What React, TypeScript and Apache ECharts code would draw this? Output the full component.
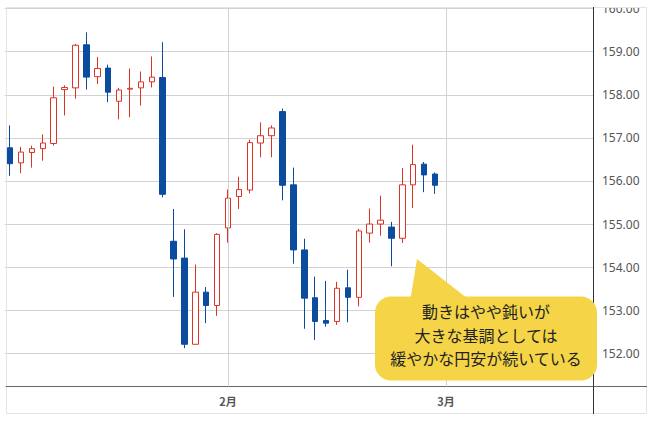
import React, { useEffect, useRef } from "react";
import * as echarts from "echarts";

const categories = [
  "2023-01-04", "2023-01-05", "2023-01-06", "2023-01-09", "2023-01-10", "2023-01-11", "2023-01-12", "2023-01-13",
  "2023-01-16", "2023-01-17", "2023-01-18", "2023-01-19", "2023-01-20", "2023-01-23", "2023-01-24", "2023-01-25",
  "2023-01-26", "2023-01-27", "2023-01-30", "2023-01-31",
  "2023-02-01", "2023-02-02", "2023-02-03", "2023-02-06", "2023-02-07", "2023-02-08", "2023-02-09", "2023-02-10",
  "2023-02-13", "2023-02-14", "2023-02-15", "2023-02-16", "2023-02-17", "2023-02-20", "2023-02-21", "2023-02-22",
  "2023-02-23", "2023-02-24", "2023-02-27", "2023-02-28",
  "2023-03-01", "2023-03-02", "2023-03-03", "2023-03-06", "2023-03-07", "2023-03-08", "2023-03-09", "2023-03-10",
  "2023-03-13", "2023-03-14", "2023-03-15", "2023-03-16", "2023-03-17", "2023-03-20",
];

const monthTicks = ["2023-02-01", "2023-03-01"];

const opens = [
  156.77, 156.42, 156.66, 156.75, 156.87, 158.12, 158.16, 159.16, 158.42, 158.62,
  157.85, 158.13, 158.16, 158.3, 158.4, 154.6, 154.21, 152.21, 153.42, 153.11,
  154.91, 155.64, 155.79, 156.88, 157.05, 157.61, 155.91, 154.4, 153.29, 152.76,
  152.74, 153.52, 153.3, 154.79, 155.0, 154.93, 154.67, 155.91, 156.39, 156.16,
];
const closes = [
  156.4, 156.67, 156.75, 156.88, 157.93, 158.17, 159.15, 158.41, 158.61, 158.06,
  158.11, 158.15, 158.3, 158.41, 155.69, 154.19, 152.21, 153.42, 153.11, 154.76,
  155.6, 155.8, 156.89, 157.05, 157.23, 155.9, 154.4, 153.28, 152.74, 152.7,
  153.51, 153.3, 154.84, 155.0, 155.09, 154.67, 155.91, 156.38, 156.14, 155.9,
];
const lows = [
  156.12, 156.18, 156.31, 156.47, 156.82, 157.52, 157.91, 158.12, 158.25, 157.83,
  157.43, 157.48, 157.75, 158.17, 155.62, 153.31, 152.12, 152.2, 152.7, 152.87,
  154.57, 155.35, 155.71, 156.55, 156.55, 155.55, 154.08, 152.57, 152.31, 152.62,
  152.66, 152.72, 153.09, 154.57, 154.73, 154.02, 154.56, 155.37, 155.74, 155.7,
];
const highs = [
  157.29, 156.79, 156.82, 157.08, 158.19, 158.22, 159.18, 159.45, 158.88, 158.7,
  158.16, 158.61, 158.54, 158.89, 159.22, 155.35, 154.88, 154.06, 153.54, 154.79,
  155.8, 156.1, 156.96, 157.36, 157.29, 157.68, 156.31, 154.66, 153.78, 153.68,
  153.66, 153.94, 154.89, 155.36, 155.66, 155.05, 156.3, 156.84, 156.44, 156.2,
];

const calloutLines = ["動きはやや鈍いが", "大きな基調としては", "緩やかな円安が続いている"];

const UP = "#dc3327";
const DOWN = "#0b4c9f";

export default function App() {
  const ref = useRef<HTMLDivElement>(null);

  useEffect(() => {
    if (!ref.current) return;
    const chart = echarts.init(ref.current, undefined, { renderer: "svg" });
    const data = opens.map((o, i) => [o, closes[i], lows[i], highs[i]]);

    const textEls = calloutLines.map((t, i) => ({
      type: "text",
      x: 486,
      y: 304 + i * 23.5,
      z: 12,
      style: {
        text: t,
        fontSize: 16,
        fontFamily: "Noto Sans CJK JP",
        fill: "#222",
        align: "center",
        verticalAlign: "middle",
        textAlign: "center",
        textVerticalAlign: "middle",
      },
    }));

    chart.setOption({
      animation: false,
      grid: {
        left: 4.7,
        right: 60,
        top: 1.6,
        bottom: 34.5,
        containLabel: false,
        outerBoundsMode: "none",
      },
      xAxis: {
        type: "category",
        data: categories,
        boundaryGap: true,
        axisLine: { show: false },
        axisTick: { show: false },
        splitLine: { show: false },
        axisLabel: {
          interval: (_i: number, v: string) => monthTicks.includes(v),
          formatter: (v: string) => `${Number(v.slice(5, 7))}月`,
          margin: 9,
          fontSize: 11,
          fontWeight: "bold",
          color: "#555",
          fontFamily: "Noto Sans CJK JP",
        },
      },
      yAxis: {
        type: "value",
        position: "right",
        min: 151.23,
        max: 160,
        splitNumber: 8,
        axisLine: { show: false },
        axisTick: { show: false },
        axisLabel: {
          margin: 9,
          color: "#555",
          fontSize: 12,
          fontFamily: "Noto Sans",
          formatter: (v: number) => (Math.abs(v - Math.round(v)) < 1e-6 ? v.toFixed(2) : ""),
        },
        splitLine: { lineStyle: { color: "#d2d2d2", width: 1 } },
      },
      series: [
        {
          type: "candlestick",
          data,
          barWidth: 6,
          itemStyle: {
            color: "#ffffff",
            color0: DOWN,
            borderColor: UP,
            borderColor0: DOWN,
            borderWidth: 1,
          },
          markLine: {
            silent: true,
            symbol: "none",
            label: { show: false },
            lineStyle: { color: "#d2d2d2", type: "solid", width: 1 },
            data: monthTicks.map((m) => ({ xAxis: m })),
          },
        },
      ],
      graphic: [
        {
          type: "rect",
          z: 1,
          shape: { x: 6.5, y: 0.5, width: 640, height: 406 },
          style: { fill: "none", stroke: "#e4e4e4", lineWidth: 1 },
        },
        {
          type: "line",
          z: 3,
          shape: { x1: 6, y1: 379.5, x2: 647, y2: 379.5 },
          style: { stroke: "#666", lineWidth: 1 },
        },
        {
          type: "line",
          z: 3,
          shape: { x1: 593.5, y1: 0, x2: 593.5, y2: 407 },
          style: { stroke: "#333", lineWidth: 1 },
        },
        {
          type: "polygon",
          z: 10,
          shape: { points: [[417, 252], [410, 295], [472, 295]] },
          style: { fill: "#f5d547" },
        },
        {
          type: "rect",
          z: 10,
          shape: { x: 375, y: 289.5, width: 222, height: 84, r: 16 },
          style: { fill: "#f5d547" },
        },
        ...textEls,
      ],
    });

    return () => chart.dispose();
  }, []);

  return (
    <div
      ref={ref}
      style={{ position: "absolute", left: 0, top: 7, width: 653, height: 414 }}
    />
  );
}
